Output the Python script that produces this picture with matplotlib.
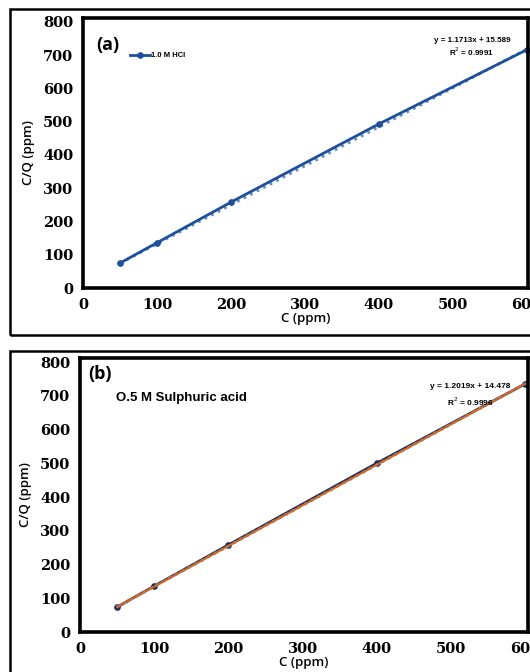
import numpy as np
import matplotlib
matplotlib.use('Agg')
import matplotlib.pyplot as plt
from matplotlib.patches import Rectangle

# panel (a) - 1.0 M HCl
conc_a = [50, 100, 200, 400, 600]
cq_a = [75, 136, 258, 493, 716]
slope_a, icpt_a = 1.1713, 15.589

# panel (b) - 0.5 M sulphuric acid
conc_b = [50, 100, 200, 400, 600]
cq_b = [74, 136, 258, 500, 735]
slope_b, icpt_b = 1.2019, 14.478

xticks = [0, 100, 200, 300, 400, 500, 600]
yticks = [0, 100, 200, 300, 400, 500, 600, 700, 800]

W, H = 530, 672
fig = plt.figure(figsize=(W / 100, H / 100), dpi=100)
fig.patch.set_facecolor('white')


def fx(px):
    return px / W


def fy(py):
    return 1 - py / H


# outer frames around each panel (extend past the cropped right/bottom edge)
for top, bot in [(9, 335), (351, 690)]:
    fig.patches.append(Rectangle((fx(10), fy(bot)), fx(540) - fx(10), fy(top) - fy(bot),
                                 transform=fig.transFigure, fill=False,
                                 edgecolor='black', linewidth=1.8, clip_on=False))

tick_font = dict(family='DejaVu Serif', weight='bold', size=10.5)
lab_font = ['Open Sans', 'DejaVu Sans']
small_font = ['Liberation Sans', 'DejaVu Sans']


def style_axes(ax, xmax):
    ax.set_xlim(0, xmax)
    ax.set_ylim(0, 812)
    ax.set_xticks(xticks)
    ax.set_yticks(yticks)
    ax.set_xticklabels([str(t) for t in xticks], fontdict=tick_font)
    ax.set_yticklabels([str(t) for t in yticks], fontdict=tick_font)
    ax.tick_params(length=0, pad=7)
    for s in ax.spines.values():
        s.set_linewidth(2.6)
        s.set_color('black')
    ax.set_ylabel('C/Q (ppm)', family=lab_font, fontsize=9.5, fontweight='semibold', labelpad=6)
    ax.set_xlabel('C (ppm)', family=lab_font, fontsize=9.5, fontweight='semibold', labelpad=0)


# ---- (a)
ax1 = fig.add_axes([fx(83), fy(288), fx(528) - fx(83), fy(18) - fy(288)])
style_axes(ax1, 602)
xfit = np.array([50, 600])
ax1.plot(xfit, slope_a * xfit + icpt_a, linestyle=':', color='#6b8fc7', linewidth=2.0)
ax1.plot(conc_a, cq_a, color='#1d4f9c', linewidth=2.0, marker='o', markersize=3.8,
         label='1.0 M HCl', clip_on=False)
leg = ax1.legend(loc='upper left', bbox_to_anchor=(0.09, 0.9), frameon=False,
                 prop=dict(family=small_font, weight='bold', size=5.5),
                 handlelength=2.6, handletextpad=0.2)
ax1.text(0.03, 0.935, '(a)', transform=ax1.transAxes, fontsize=13, fontweight='bold',
         family=lab_font, va='top', ha='left')
ax1.text(0.874, 0.915, 'y = 1.1713x + 15.589', transform=ax1.transAxes, fontsize=5.8,
         fontweight='bold', family=small_font, ha='center', va='center')
ax1.text(0.874, 0.875, 'R$^2$ = 0.9991', transform=ax1.transAxes, fontsize=5.8,
         fontweight='bold', family=small_font, ha='center', va='center')

# ---- (b)
ax2 = fig.add_axes([fx(80), fy(632), fx(528) - fx(80), fy(358) - fy(632)])
style_axes(ax2, 604)
ax2.plot(conc_b, cq_b, color='#1f2f5a', linewidth=2.0, marker='o', markersize=3.8, clip_on=False)
ax2.plot(xfit, slope_b * xfit + icpt_b, linestyle=':', color='#5b9bd5', linewidth=2.0)
ax2.plot(xfit, slope_b * xfit + icpt_b, color='#d8681f', linewidth=1.5)
ax2.text(0.018, 0.975, '(b)', transform=ax2.transAxes, fontsize=13, fontweight='bold',
         family=lab_font, va='top', ha='left')
ax2.text(0.08, 0.855, 'O.5 M Sulphuric acid', transform=ax2.transAxes, fontsize=9.5,
         fontweight='bold', family=small_font, ha='left', va='center')
ax2.text(0.872, 0.895, 'y = 1.2019x + 14.478', transform=ax2.transAxes, fontsize=6,
         fontweight='bold', family=small_font, ha='center', va='center')
ax2.text(0.872, 0.84, 'R$^2$ = 0.9996', transform=ax2.transAxes, fontsize=6,
         fontweight='bold', family=small_font, ha='center', va='center')

fig.savefig('out.png', dpi=100, facecolor='white')
